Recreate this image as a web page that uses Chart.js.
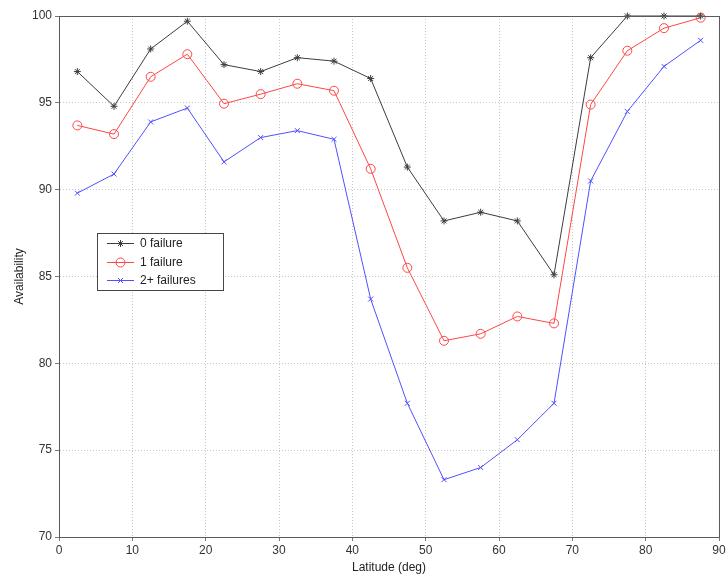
<!DOCTYPE html>
<html>
<head>
<meta charset="utf-8">
<script src="https://cdn.jsdelivr.net/npm/chart.js@4.4.0/dist/chart.umd.min.js"></script>
<style>
html,body{margin:0;padding:0;background:#fff;}
#wrap{position:relative;width:728px;height:581px;}
</style>
</head>
<body>
<div id="wrap"><canvas id="c" width="728" height="581"></canvas></div>
<script>
const latitudes = [2.5,7.5,12.5,17.5,22.5,27.5,32.5,37.5,42.5,47.5,52.5,57.5,62.5,67.5,72.5,77.5,82.5,87.5];
const zeroFailure = [96.8,94.8,98.1,99.7,97.2,96.8,97.6,97.4,96.4,91.3,88.2,88.7,88.2,85.1,97.6,100,100,100];
const oneFailure  = [93.7,93.2,96.5,97.8,94.95,95.5,96.1,95.7,91.2,85.5,81.3,81.7,82.7,82.3,94.9,98.0,99.3,99.9];
const twoPlusFailures = [89.8,90.9,93.9,94.7,91.6,93.0,93.4,92.9,83.7,77.7,73.3,74.0,75.6,77.7,90.5,94.5,97.1,98.6];
const seriesNames = ['0 failure','1 failure','2+ failures'];
const xTicks = [0,10,20,30,40,50,60,70,80,90];
const yTicks = [70,75,80,85,90,95,100];

const colors = ['rgb(60,60,60)','rgb(255,70,70)','rgb(80,80,255)'];
const styles = ['star','circle','crossRot'];
const radii = [3.5,4.5,3.5];
const allSeries = [zeroFailure, oneFailure, twoPlusFailures];

const FONT = 'Liberation Sans, Arial, sans-serif';

const datasets = allSeries.map((vals,i)=>({
  label: seriesNames[i],
  data: latitudes.map((x,j)=>({x:x,y:vals[j]})),
  borderColor: colors[i],
  backgroundColor: 'rgba(0,0,0,0)',
  pointBorderColor: colors[i],
  pointBackgroundColor: 'rgba(0,0,0,0)',
  pointStyle: styles[i],
  pointRadius: radii[i],
  pointBorderWidth: 1,
  borderWidth: 1,
  tension: 0,
  clip: false
}));

const frameAndLegend = {
  id: 'frameAndLegend',
  afterDraw(chart){
    const ctx = chart.ctx;
    const a = chart.chartArea;
    ctx.save();
    ctx.strokeStyle = 'rgb(90,90,90)';
    ctx.lineWidth = 1;
    ctx.strokeRect(Math.round(a.left)+0.5, Math.round(a.top)+0.5, Math.round(a.right-a.left), Math.round(a.bottom-a.top));
    // legend
    const lx = 97, ly = 233, lw = 126, lh = 57;
    ctx.fillStyle = '#fff';
    ctx.fillRect(lx, ly, lw, lh);
    ctx.strokeStyle = 'rgb(70,70,70)';
    ctx.strokeRect(lx+0.5, ly+0.5, lw, lh);
    ctx.font = '12px ' + FONT;
    ctx.textBaseline = 'middle';
    ctx.textAlign = 'left';
    const rows = [243, 262, 280];
    seriesNames.forEach((name,i)=>{
      const y = rows[i];
      ctx.strokeStyle = colors[i];
      ctx.lineWidth = 1;
      ctx.beginPath();
      ctx.moveTo(107, y+0.5);
      ctx.lineTo(134, y+0.5);
      ctx.stroke();
      ctx.fillStyle = 'rgba(0,0,0,0)';
      ctx.strokeStyle = colors[i];
      Chart.helpers.drawPoint(ctx, {pointStyle: styles[i], radius: radii[i], borderWidth: 1}, 120.5, y+0.5);
      ctx.fillStyle = '#222';
      ctx.fillText(name, 140, y+1);
    });
    ctx.restore();
  }
};

new Chart(document.getElementById('c'), {
  type: 'line',
  data: { datasets },
  options: {
    responsive: false,
    animation: false,
    devicePixelRatio: 1,
    layout: { padding: { top: 16, right: 9, left: 12, bottom: 6 } },
    plugins: { legend: { display: false }, tooltip: { enabled: false } },
    scales: {
      x: {
        type: 'linear',
        min: 0, max: 90,
        afterBuildTicks: s => { s.ticks = xTicks.map(v=>({value:v})); },
        afterFit: s => { s.height = 38; },
        ticks: { font: { family: FONT, size: 12 }, color: '#333', padding: 2, maxRotation: 0 },
        grid: { color: 'rgb(200,200,200)', tickColor: 'rgb(120,120,120)', tickLength: 4, lineWidth: 1 },
        border: { display: true, color: 'rgb(90,90,90)', dash: [1,2] },
        title: { display: true, text: 'Latitude (deg)', font: { family: FONT, size: 12 }, color: '#222', padding: { top: 2, bottom: 0 } }
      },
      y: {
        type: 'linear',
        min: 70, max: 100,
        afterBuildTicks: s => { s.ticks = yTicks.map(v=>({value:v})); },
        afterFit: s => { s.width = 47; },
        ticks: { font: { family: FONT, size: 12 }, color: '#333', padding: 3 },
        grid: { color: 'rgb(200,200,200)', tickColor: 'rgb(120,120,120)', tickLength: 4, lineWidth: 1 },
        border: { display: true, color: 'rgb(90,90,90)', dash: [1,2] },
        title: { display: true, text: 'Availability', font: { family: FONT, size: 12 }, color: '#222', padding: { top: 0, bottom: 4 } }
      }
    }
  },
  plugins: [frameAndLegend]
});
</script>
</body>
</html>
